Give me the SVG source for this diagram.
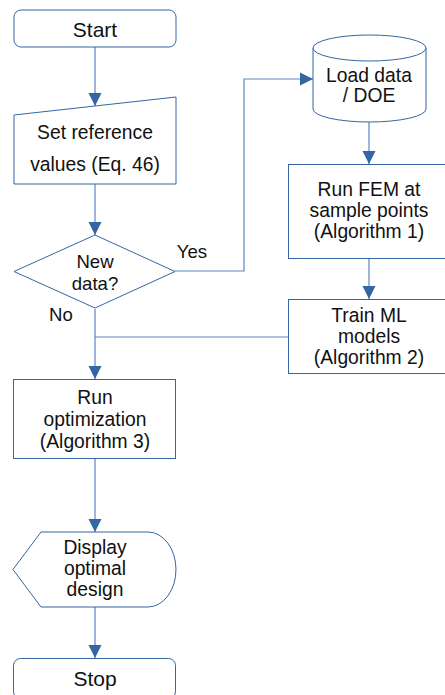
<svg xmlns="http://www.w3.org/2000/svg" width="445" height="695" viewBox="0 0 445 695">
  <style>
    .shape { fill: #ffffff; stroke: #3465a4; stroke-width: 1; }
    .link { fill: none; stroke: #5b87c2; stroke-width: 1.2; }
    text { font-family: "Liberation Sans", Arial, sans-serif; fill: #111111; text-anchor: middle; }
    .t19 { font-size: 19.3px; }
    .t21 { font-size: 21px; }
    .t18 { font-size: 18.6px; }
  </style>
  <defs>
    <marker id="arrow" markerUnits="userSpaceOnUse" markerWidth="14" markerHeight="14" refX="13" refY="7" orient="auto">
      <path d="M0,0.5 L13,7 L0,13.5 Z" fill="#3465a4"/>
    </marker>
  </defs>
  <rect width="445" height="695" fill="#ffffff"/>

  <g id="connectors">
    <path class="link" d="M95,47 V106" marker-end="url(#arrow)"/>
    <path class="link" d="M95,184 V235" marker-end="url(#arrow)"/>
    <path class="link" d="M175,271 H244 V79 H313" marker-end="url(#arrow)"/>
    <path class="link" d="M369,122 V164" marker-end="url(#arrow)"/>
    <path class="link" d="M369,259 V299" marker-end="url(#arrow)"/>
    <path class="link" d="M288,337 H95"/>
    <path class="link" d="M95,309 V379" marker-end="url(#arrow)"/>
    <path class="link" d="M95,459 V532" marker-end="url(#arrow)"/>
    <path class="link" d="M95,607 V658" marker-end="url(#arrow)"/>
  </g>

  <g id="start">
    <rect class="shape" x="14" y="10" width="162" height="37" rx="7"/>
    <text class="t21" x="95" y="37">Start</text>
  </g>

  <g id="set-reference">
    <path class="shape" d="M14,115 L176,97 V184 H14 Z"/>
    <text class="t19" x="95" y="139">Set reference</text>
    <text class="t19" x="95" y="171">values (Eq. 46)</text>
  </g>

  <g id="new-data">
    <path class="shape" d="M95,235 L175,271.5 L95,308 L14,271.5 Z"/>
    <text class="t18" x="95" y="268">New</text>
    <text class="t18" x="95" y="290">data?</text>
  </g>
  <text class="t18" x="192" y="258">Yes</text>
  <text class="t18" x="61" y="321">No</text>

  <g id="load-data">
    <path class="shape" d="M313,48 V109 A56.5,13 0 0 0 426,109 V48"/>
    <ellipse class="shape" cx="369.5" cy="48" rx="56.5" ry="13"/>
    <text class="t19" x="369" y="82">Load data</text>
    <text class="t19" x="369" y="102">/ DOE</text>
  </g>

  <g id="run-fem">
    <rect class="shape" x="288.5" y="164.5" width="163" height="94"/>
    <text class="t19" x="369" y="196">Run FEM at</text>
    <text class="t19" x="369" y="217">sample points</text>
    <text class="t19" x="369" y="238">(Algorithm 1)</text>
  </g>

  <g id="train-ml">
    <rect class="shape" x="288.5" y="299.5" width="163" height="74"/>
    <text class="t19" x="369" y="322">Train ML</text>
    <text class="t19" x="369" y="343">models</text>
    <text class="t19" x="369" y="364">(Algorithm 2)</text>
  </g>

  <g id="run-optimization">
    <rect class="shape" x="13.5" y="379.5" width="162" height="79"/>
    <text class="t19" x="95" y="404">Run</text>
    <text class="t19" x="95" y="426">optimization</text>
    <text class="t19" x="95" y="448">(Algorithm 3)</text>
  </g>

  <g id="display">
    <path class="shape" d="M41,532 H148 A28,37.5 0 0 1 148,607 H41 L13,569.5 Z"/>
    <text class="t19" x="95" y="554">Display</text>
    <text class="t19" x="95" y="575">optimal</text>
    <text class="t19" x="95" y="596">design</text>
  </g>

  <g id="stop">
    <rect class="shape" x="13.5" y="658.5" width="162" height="40" rx="7"/>
    <text class="t21" x="95" y="686">Stop</text>
  </g>
</svg>
